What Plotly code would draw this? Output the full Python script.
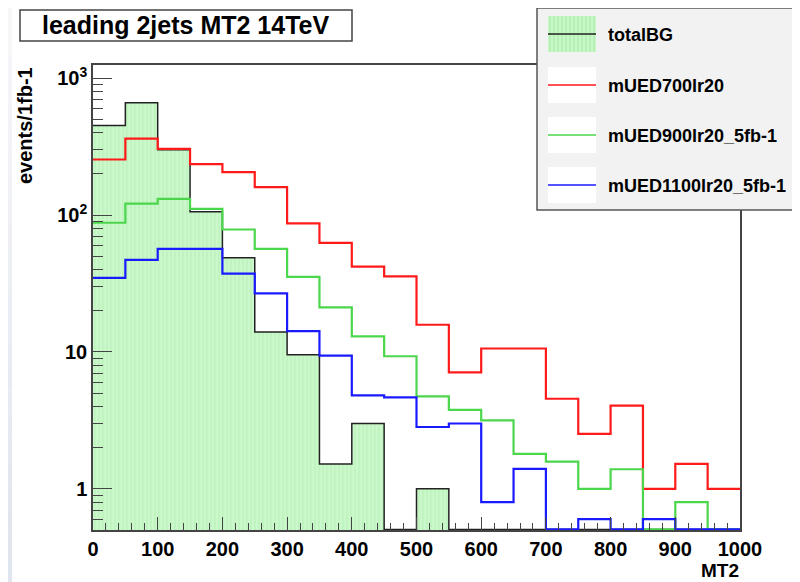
import math
import plotly.graph_objects as go

# ---------------- data ----------------
bin_edges = list(range(0, 1001, 50))
series_names = ["totalBG", "mUED700lr20", "mUED900lr20_5fb-1", "mUED1100lr20_5fb-1"]
total_bg = [452, 662, 300, 106, 48.7, 14.0, 9.55, 1.52, 3.0, 0,
            1.0, 0, 0, 0, 0, 0, 0, 0, 0, 0]
mued700 = [255, 362, 305, 236, 206, 160, 87, 62.7, 42, 35.7,
           15.8, 7.1, 10.6, 10.6, 4.55, 2.52, 4.05, 1.0, 1.52, 1.0]
mued900 = [87.9, 121.5, 131.6, 111, 78.5, 56.7, 35.4, 21.2, 13.0, 9.3,
           4.73, 3.78, 3.16, 1.80, 1.58, 1.0, 1.39, 0, 0.8, 0]
mued1100 = [34.8, 47.1, 56.7, 56.7, 37.4, 26.8, 14.2, 9.4, 4.82, 4.65,
            2.83, 3.0, 0.80, 1.40, 0, 0.6, 0, 0.6, 0, 0]
x_tick_vals = list(range(0, 1001, 100))
y_tick_vals = [1, 10, 100, 1000]
y_tick_text = ["1", "10", "10<sup>2</sup>", "10<sup>3</sup>"]
title_text = "leading 2jets MT2 14TeV"
x_title = "MT2"
y_title = "events/1fb-1"

# ---------------- layout geometry (page pixels; the html body has an 8px margin) ----------------
OFF = 8
PAGE_W, PAGE_H = 800, 582
W, H = PAGE_W - OFF, PAGE_H - OFF
ML, MR, MT, MB = 93 - OFF, 60, 65 - OFF, 52
PW, PH = W - ML - MR, H - MT - MB
YMIN, YMAX = 0.5, 1250
FLOOR = 0.505


def px(x):
    return (x - OFF - ML) / PW


def py(y):
    return (PAGE_H - MB - y) / PH


FONT = "Liberation Sans, Arial, Helvetica, sans-serif"
line_colors = ["#222222", "#ff1a1a", "#4cd64c", "#1a1aff"]

centers = [(a + b) / 2 for a, b in zip(bin_edges[:-1], bin_edges[1:])]


def step(vals):
    y = [v if v > 0 else FLOOR for v in vals]
    return bin_edges, y + [y[-1]]


fig = go.Figure()

# filled background histogram
fig.add_trace(go.Bar(
    x=centers, y=[v if v > 0 else None for v in total_bg], width=50,
    marker=dict(color="#c8f7c8", line=dict(width=0),
                pattern=dict(shape="|", fgcolor="#a6eaa6", bgcolor="#cbf8cb",
                             size=4, solidity=0.3)),
    showlegend=False, hoverinfo="skip"))

for vals, col, w in [(total_bg, line_colors[0], 1.5), (mued700, line_colors[1], 2.2),
                     (mued900, line_colors[2], 2.2), (mued1100, line_colors[3], 2.2)]:
    xs, ys = step(vals)
    fig.add_trace(go.Scatter(x=xs, y=ys, mode="lines", line=dict(color=col, width=w, shape="hv"),
                             showlegend=False, hoverinfo="skip"))

minor_y = []
for d in [0.1, 1, 10, 100]:
    for k in range(2, 10):
        v = k * d
        if YMIN < v < YMAX:
            minor_y.append(v)

fig.update_layout(
    width=W, height=H, margin=dict(l=ML, r=MR, t=MT, b=MB),
    paper_bgcolor="white", plot_bgcolor="white", bargap=0, showlegend=False,
    font=dict(family=FONT, color="black"),
    xaxis=dict(range=[0, 1000], showline=True, linecolor="#444", linewidth=1.5, mirror=True,
               showgrid=False, zeroline=False, ticks="inside", ticklen=13, tickwidth=1,
               tickcolor="#444", tickmode="array", tickvals=x_tick_vals,
               tickfont=dict(family=FONT, size=20, color="black", weight="bold"),
               minor=dict(tick0=0, dtick=20, ticks="inside", ticklen=7, tickcolor="#444",
                          showgrid=False)),
    yaxis=dict(type="log", range=[math.log10(YMIN), math.log10(YMAX)], showline=True,
               linecolor="#444", linewidth=1.5, mirror=True, showgrid=False, zeroline=False,
               ticks="inside", ticklen=19, tickwidth=1, tickcolor="#444",
               tickmode="array", tickvals=y_tick_vals, ticktext=y_tick_text,
               tickfont=dict(family=FONT, size=20, color="black", weight="bold"),
               minor=dict(tickmode="array", tickvals=minor_y, ticks="inside", ticklen=10,
                          tickcolor="#444", showgrid=False)),
)

shapes = []
ann = []

# page border strips (outside the ROOT canvas)
n = 24
c0 = (246, 247, 249)
c1 = (223, 229, 238)
for i in range(n):
    t = i / (n - 1)
    c = tuple(int(c0[j] + (c1[j] - c0[j]) * t) for j in range(3))
    y0 = OFF + i * (PAGE_H - OFF) / n
    y1 = OFF + (i + 1) * (PAGE_H - OFF) / n
    shapes.append(dict(type="rect", xref="paper", yref="paper", x0=px(OFF), x1=px(12),
                       y0=py(y1), y1=py(y0), line=dict(width=0),
                       fillcolor="rgb(%d,%d,%d)" % c, layer="above"))

# title box
shapes.append(dict(type="rect", xref="paper", yref="paper", x0=px(20), x1=px(352),
                   y0=py(41), y1=py(10), line=dict(color="#444", width=1.5),
                   fillcolor="white", layer="above"))
ann.append(dict(x=px(185), y=py(25.5), xref="paper", yref="paper", text="<b>%s</b>" % title_text,
                showarrow=False, xanchor="center", yanchor="middle",
                font=dict(family=FONT, size=25, color="black")))

# legend box
shapes.append(dict(type="rect", xref="paper", yref="paper", x0=px(537), x1=px(812),
                   y0=py(210), y1=py(8), line=dict(color="#555", width=1.5),
                   fillcolor="#f2f2f2", layer="above"))
leg_tops = [16, 67, 117, 167]
for i, name in enumerate(series_names):
    top = leg_tops[i]
    mid = top + 18
    fill = "#c8f7c8" if i == 0 else "white"
    shapes.append(dict(type="rect", xref="paper", yref="paper", x0=px(548), x1=px(596),
                       y0=py(top + 36), y1=py(top), line=dict(width=0), fillcolor=fill,
                       layer="above"))
    if i == 0:
        for xx in range(550, 596, 4):
            shapes.append(dict(type="line", xref="paper", yref="paper", x0=px(xx), x1=px(xx),
                               y0=py(top + 36), y1=py(top), line=dict(color="#a6eaa6", width=1),
                               layer="above"))
    shapes.append(dict(type="line", xref="paper", yref="paper", x0=px(548), x1=px(596),
                       y0=py(mid), y1=py(mid),
                       line=dict(color=line_colors[i], width=1.5), layer="above"))
    ann.append(dict(x=px(606), y=py(mid + 1), xref="paper", yref="paper",
                    text="<b>%s</b>" % name, showarrow=False, xanchor="left",
                    yanchor="middle", font=dict(family=FONT, size=18, color="black")))

# axis titles
ann.append(dict(x=px(25), y=py(126), xref="paper", yref="paper", text="<b>%s</b>" % y_title,
                showarrow=False, textangle=-90, xanchor="center", yanchor="middle",
                font=dict(family=FONT, size=20, color="black")))
ann.append(dict(x=px(741), y=py(570), xref="paper", yref="paper", text="<b>%s</b>" % x_title,
                showarrow=False, xanchor="right", yanchor="middle",
                font=dict(family=FONT, size=19, color="black")))

fig.update_layout(shapes=shapes, annotations=ann)
fig.write_html("out.html")
